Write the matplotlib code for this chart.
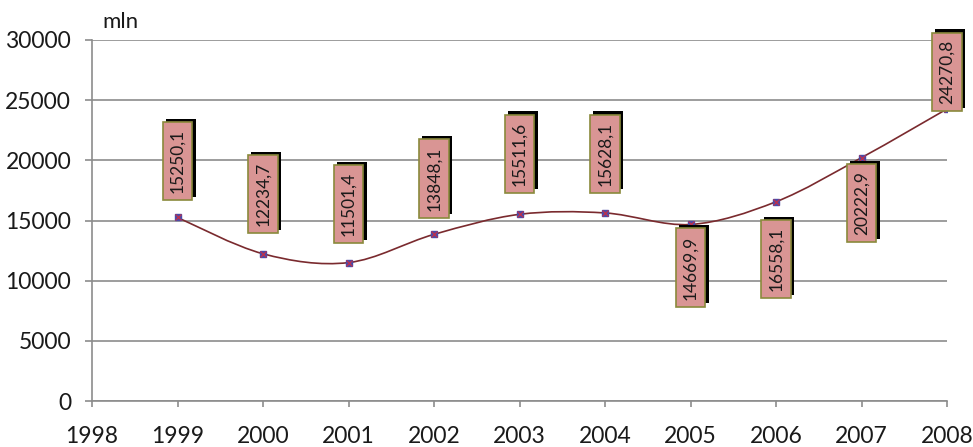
import matplotlib
matplotlib.use("Agg")
import matplotlib.pyplot as plt
import matplotlib.patheffects as pe
from matplotlib.path import Path
from matplotlib.patches import PathPatch

years = [1999, 2000, 2001, 2002, 2003, 2004, 2005, 2006, 2007, 2008]
values = [15250.1, 12234.7, 11501.4, 13848.1, 15511.6, 15628.1, 14669.9, 16558.1, 20222.9, 24270.8]
labels = ["15250,1", "12234,7", "11501,4", "13848,1", "15511,6", "15628,1", "14669,9", "16558,1", "20222,9", "24270,8"]
# where each label box sits relative to its point (data units)
label_dy = [4700, 4970, 4870, 4650, 5040, 4920, -3580, -4760, -3770, 3080]

plt.rcParams['font.family'] = ['Lato', 'DejaVu Sans']

fig = plt.figure(figsize=(9.73, 4.47), dpi=100)
ax = fig.add_axes([92 / 973, 1 - 401 / 447, 855 / 973, 361 / 447])

# smoothed line (Excel-like bezier through the points)
n = len(years)
verts = [(years[0], values[0])]
codes = [Path.MOVETO]
for i in range(n - 1):
    p0 = (years[max(i - 1, 0)], values[max(i - 1, 0)])
    p1 = (years[i], values[i])
    p2 = (years[i + 1], values[i + 1])
    p3 = (years[min(i + 2, n - 1)], values[min(i + 2, n - 1)])
    c1 = (p1[0] + (p2[0] - p0[0]) / 6, p1[1] + (p2[1] - p0[1]) / 6)
    c2 = (p2[0] - (p3[0] - p1[0]) / 6, p2[1] - (p3[1] - p1[1]) / 6)
    verts += [c1, c2, p2]
    codes += [Path.CURVE4] * 3
ax.add_patch(PathPatch(Path(verts, codes), fc="none", ec="#7a2a2e", lw=1.2, zorder=3))

ax.plot(years, values, ls="none", marker="s", ms=5, mfc="#4a4aa8", mec="#4a4aa8", zorder=4)
ax.plot(years, values, ls="none", marker="x", ms=4, mew=0.9, color="#c0304a", zorder=5)

for x, y, t, dy in zip(years, values, labels, label_dy):
    txt = ax.text(x, y + dy, t, rotation=90, ha="center", va="center", fontsize=12.5,
                  color="#1a1a1a", zorder=6,
                  bbox=dict(boxstyle="square,pad=0.4", fc="#d99594", ec="#8a8a3c", lw=1.2))
    txt.get_bbox_patch().set_path_effects([
        pe.SimplePatchShadow(offset=(2.4, 2.4), shadow_rgbFace="black", alpha=1.0),
        pe.Normal()])

ax.set_xlim(1998, 2008)
ax.set_ylim(0, 30000)
ax.set_xticks(range(1998, 2009))
ax.set_yticks(range(0, 30001, 5000))
ax.yaxis.grid(True, color="#8c8c8c", lw=1.2)
ax.set_axisbelow(True)
for s in ["top", "right"]:
    ax.spines[s].set_visible(False)
for s in ["left", "bottom"]:
    ax.spines[s].set_color("#8c8c8c")
    ax.spines[s].set_linewidth(1.2)
ax.tick_params(axis="y", length=5, width=1.2, color="#8c8c8c", pad=10, labelsize=16.5, labelcolor="#1a1a1a")
ax.tick_params(axis="x", length=4, width=1.2, color="#8c8c8c", pad=14, labelsize=16.5, labelcolor="#1a1a1a")

ax.text(0.012, 1.05, "mln", transform=ax.transAxes, fontsize=16, va="center", ha="left", color="#1a1a1a")

fig.savefig("out.png", dpi=100)
